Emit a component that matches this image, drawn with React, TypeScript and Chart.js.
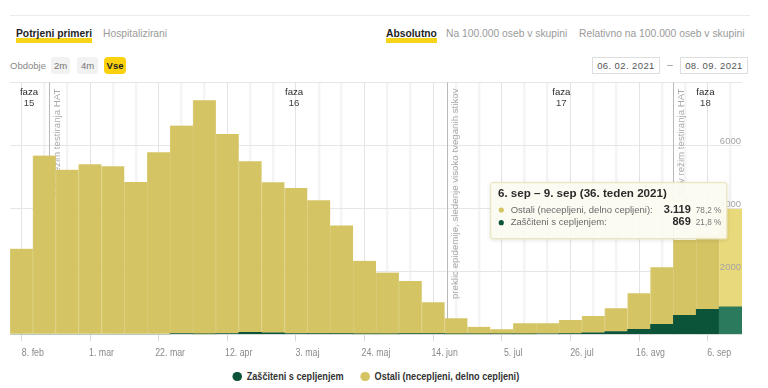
import React, { useEffect, useRef } from 'react';
import { Chart, registerables } from 'chart.js';

Chart.register(...registerables);
document.body.style.margin = '0';

const FONT = "'Liberation Sans', Arial, sans-serif";

// ---- data ----
const seriesNames = ['Zaščiteni s cepljenjem', 'Ostali (necepljeni, delno cepljeni)'];
const protectedCases = [
  0, 0, 0, 0, 0, 0, 0, 25, 5, 25, 65, 50, 25, 20, 20, 5,
  5, 20, 20, 5, 3, 3, 5, 15, 20, 50, 85, 160, 318, 600, 790, 869,
];
const otherCases = [
  2720, 5680, 5230, 5400, 5340, 4840, 5780, 6605, 7435, 6335, 5435, 4780, 4625, 4235, 3440, 2330,
  1955, 1670, 1000, 505, 237, 157, 345, 335, 435, 535, 743, 1146, 1816, 2400, 2360, 3119,
];
const tickWeeks = [1, 4, 7, 10, 13, 16, 19, 22, 25, 28, 31];
const tickLabels = ['8. feb', '1. mar', '22. mar', '12. apr', '3. maj', '24. maj', '14. jun', '5. jul', '26. jul', '16. avg', '6. sep'];
const yTickValues = [2000, 4000, 6000];
const phaseNames = ['15', '16', '17', '18'];
const phaseWeeks = [0.83, 12.42, 24.1, 30.4];
const eventWeeks = [1.7, 19.1, 29.0];
const eventLabels = [
  'Nov režim testiranja HAT',
  'preklic epidemije, sledenje visoko tveganih stikov',
  'Nov režim testiranja HAT',
];
const tooltipTitle = '6. sep – 9. sep (36. teden 2021)';
const dateFrom = '06. 02. 2021';
const dateTo = '08. 09. 2021';

const weekCount = otherCases.length;
const hoverIndex = weekCount - 1;

const GREEN = '#0c5439';
const GREEN_HOVER = '#2c7a5d';
const YELLOW = '#d4c463';
const YELLOW_HOVER = '#e8d97b';

const fmt = (v: number) => String(v).replace(/\B(?=(\d{3})+(?!\d))/g, '.');
const pct = (v: number, t: number) => ((v / t) * 100).toFixed(1).replace('.', ',') + ' %';

function scaledText(ctx: CanvasRenderingContext2D, text: string, x: number, y: number, sx: number, align: CanvasTextAlign) {
  ctx.save();
  ctx.translate(x, y);
  ctx.scale(sx, 1);
  ctx.textAlign = align;
  ctx.fillText(text, 0, 0);
  ctx.restore();
}

const overlayPlugin = {
  id: 'overlay',
  beforeDatasetsDraw(chart: any) {
    const { ctx, chartArea, scales } = chart;
    const x = scales.x;
    ctx.save();
    eventWeeks.forEach((w, i) => {
      const px = Math.round(x.getPixelForValue(w)) + 0.5;
      ctx.strokeStyle = '#b9b9b9';
      ctx.lineWidth = 1;
      ctx.beginPath();
      ctx.moveTo(px, chartArea.top);
      ctx.lineTo(px, chartArea.bottom);
      ctx.stroke();
      ctx.save();
      ctx.translate(px + 3, chartArea.top + 6);
      ctx.rotate(-Math.PI / 2);
      ctx.font = `9.7px ${FONT}`;
      ctx.fillStyle = '#a9a9a9';
      ctx.textAlign = 'right';
      ctx.textBaseline = 'top';
      ctx.fillText(eventLabels[i], 0, 0);
      ctx.restore();
    });
    phaseNames.forEach((n, i) => {
      const px = x.getPixelForValue(phaseWeeks[i]);
      ctx.font = `9.6px ${FONT}`;
      ctx.textAlign = 'center';
      ctx.textBaseline = 'middle';
      ctx.fillStyle = '#2a2a2a';
      ctx.fillText('faza', px, chartArea.top + 10);
      ctx.fillStyle = '#444';
      ctx.fillText(n, px, chartArea.top + 20.5);
    });
    ctx.restore();
  },
  afterDatasetsDraw(chart: any) {
    const { ctx, chartArea, scales } = chart;
    const y = scales.y;
    const x = scales.x;
    ctx.save();
    ctx.font = `9.5px ${FONT}`;
    ctx.fillStyle = '#a5a5a5';
    ctx.textAlign = 'right';
    ctx.textBaseline = 'middle';
    yTickValues.forEach((v) => {
      ctx.fillText(String(v), chartArea.right - 1, y.getPixelForValue(v) - 4);
    });
    ctx.font = `10px ${FONT}`;
    ctx.fillStyle = '#8a8a8a';
    ctx.textBaseline = 'middle';
    tickWeeks.forEach((w, i) => {
      scaledText(ctx, tickLabels[i], x.getPixelForValue(w), chartArea.bottom + 19, 0.88, 'center');
    });
    ctx.restore();
  },
  afterDraw(chart: any) {
    const { ctx } = chart;
    const el = chart.getDatasetMeta(1).data[hoverIndex];
    if (!el) return;
    const w = 237;
    const h = 57;
    const right = el.x - 3.3;
    const left = right - w;
    const top = el.y - 26.6;
    ctx.save();
    ctx.shadowColor = 'rgba(0,0,0,0.12)';
    ctx.shadowBlur = 4;
    ctx.shadowOffsetY = 1;
    ctx.fillStyle = 'rgba(253,252,242,0.95)';
    ctx.beginPath();
    ctx.roundRect(left, top, w, h, 2);
    ctx.fill();
    ctx.shadowColor = 'transparent';
    ctx.strokeStyle = '#e7e0b4';
    ctx.lineWidth = 1;
    ctx.beginPath();
    ctx.roundRect(left + 0.5, top + 0.5, w - 1, h - 1, 2);
    ctx.stroke();

    ctx.textBaseline = 'middle';
    ctx.textAlign = 'left';
    ctx.font = `bold 11.6px ${FONT}`;
    ctx.fillStyle = '#2b2b2b';
    ctx.fillText(tooltipTitle, left + 7.7, top + 11.5);

    const total = otherCases[hoverIndex] + protectedCases[hoverIndex];
    const rows = [
      { name: seriesNames[1], v: otherCases[hoverIndex], c: YELLOW },
      { name: seriesNames[0], v: protectedCases[hoverIndex], c: GREEN },
    ];
    rows.forEach((r, i) => {
      const cy = top + 27.8 + i * 12.7;
      ctx.fillStyle = r.c;
      ctx.beginPath();
      ctx.arc(left + 11, cy, 2.6, 0, Math.PI * 2);
      ctx.fill();
      ctx.textAlign = 'left';
      ctx.font = `9.5px ${FONT}`;
      ctx.fillStyle = '#6a6a6a';
      ctx.fillText(r.name + ':', left + 20.4, cy);
      ctx.font = `bold 10px ${FONT}`;
      ctx.fillStyle = '#2b2b2b';
      scaledText(ctx, fmt(r.v), left + 200.5, cy, 1.1, 'right');
      ctx.font = `9.5px ${FONT}`;
      ctx.fillStyle = '#777';
      scaledText(ctx, pct(r.v, total), left + 231, cy, 0.86, 'right');
    });
    ctx.restore();
  },
};

const tabStyle = (active: boolean): React.CSSProperties => ({
  position: 'absolute',
  top: 26,
  height: 17,
  lineHeight: '16px',
  fontSize: 10.3,
  fontWeight: active ? 700 : 400,
  color: active ? '#1f1f1f' : '#9a9a9a',
  whiteSpace: 'nowrap',
  background: active ? 'linear-gradient(to top, #f7d31a 0, #f7d31a 5px, transparent 5px)' : 'none',
});

const btnStyle = (left: number, width: number, active: boolean): React.CSSProperties => ({
  position: 'absolute',
  left,
  top: 57,
  width,
  height: 17,
  lineHeight: '17px',
  textAlign: 'center',
  fontSize: 9.5,
  fontWeight: active ? 700 : 400,
  color: active ? '#1f1f1f' : '#777',
  background: active ? '#fcd20f' : '#f2f2f2',
  borderRadius: active ? 4 : 3,
  whiteSpace: 'nowrap',
});

const dateStyle = (left: number): React.CSSProperties => ({
  position: 'absolute',
  left,
  top: 57,
  width: 68,
  height: 17,
  boxSizing: 'border-box',
  border: '1px solid #dedede',
  lineHeight: '15px',
  textAlign: 'center',
  fontSize: 9.5,
  color: '#555',
  letterSpacing: 0.4,
  whiteSpace: 'nowrap',
});

export default function App() {
  const canvasRef = useRef<HTMLCanvasElement>(null);

  useEffect(() => {
    if (!canvasRef.current) return;
    Chart.defaults.font.family = FONT;
    const labelSet = new Set(tickWeeks);
    const greenColors = protectedCases.map((_, i) => (i === hoverIndex ? GREEN_HOVER : GREEN));
    const yellowColors = otherCases.map((_, i) => (i === hoverIndex ? YELLOW_HOVER : YELLOW));
    const chart = new Chart(canvasRef.current, {
      type: 'bar',
      data: {
        datasets: [
          {
            label: seriesNames[0],
            data: protectedCases.map((v, i) => ({ x: i + 0.5, y: v })),
            backgroundColor: greenColors,
            borderWidth: 0,
            barPercentage: 1,
            categoryPercentage: 1,
          },
          {
            label: seriesNames[1],
            data: otherCases.map((v, i) => ({ x: i + 0.5, y: v })),
            backgroundColor: yellowColors,
            borderColor: otherCases.map((_, i) => (i === hoverIndex ? '#ecdf8c' : '#dacd7a')),
            borderWidth: { left: 1, right: 0, top: 0, bottom: 0 },
            borderSkipped: false,
            barPercentage: 1,
            categoryPercentage: 1,
          },
        ],
      },
      options: {
        animation: false,
        responsive: true,
        maintainAspectRatio: false,
        layout: { padding: { left: 10, top: 6.5, right: 0, bottom: 0 } },
        plugins: { legend: { display: false }, tooltip: { enabled: false } },
        events: [],
        scales: {
          x: {
            type: 'linear',
            stacked: true,
            min: 0,
            max: weekCount,
            offset: false,
            afterBuildTicks: (scale: any) => {
              scale.ticks = Array.from({ length: weekCount + 1 }, (_, i) => ({ value: i }));
            },
            afterFit: (scale: any) => {
              scale.height = 31.7;
            },
            ticks: { display: false },
            grid: {
              color: (c: any) => (c.tick && labelSet.has(c.tick.value) ? '#e3e3e3' : '#f4f4f4'),
              lineWidth: (c: any) => (c.tick && labelSet.has(c.tick.value) ? 1 : 2.5),
              tickColor: (c: any) => (c.tick && labelSet.has(c.tick.value) ? '#d8d8d8' : 'rgba(0,0,0,0)'),
              tickLength: 7,
              drawTicks: true,
            },
            border: { display: false },
          },
          y: {
            type: 'linear',
            position: 'right',
            stacked: true,
            min: 0,
            max: 8000,
            afterBuildTicks: (scale: any) => {
              scale.ticks = [0, 2000, 4000, 6000, 8000].map((v) => ({ value: v }));
            },
            afterFit: (scale: any) => {
              scale.width = 26;
            },
            ticks: { display: false },
            grid: { color: '#e6e6e6', drawTicks: false, lineWidth: 1 },
            border: { display: false },
          },
        },
      },
      plugins: [overlayPlugin],
    });
    return () => chart.destroy();
  }, []);

  return (
    <div style={{ position: 'relative', width: 768, height: 388, overflow: 'hidden', fontFamily: FONT, background: '#fff' }}>
      <div style={{ position: 'absolute', left: 10, top: 15, width: 740, height: 1, background: '#ebebeb' }} />
      <div style={{ ...tabStyle(true), left: 16 }}>Potrjeni primeri</div>
      <div style={{ ...tabStyle(false), left: 103 }}>Hospitalizirani</div>
      <div style={{ ...tabStyle(true), left: 386 }}>Absolutno</div>
      <div style={{ ...tabStyle(false), left: 446 }}>Na 100.000 oseb v skupini</div>
      <div style={{ ...tabStyle(false), left: 579 }}>Relativno na 100.000 oseb v skupini</div>

      <div style={{ position: 'absolute', left: 10, top: 57, height: 17, lineHeight: '17px', fontSize: 9.5, color: '#888' }}>Obdobje</div>
      <div style={btnStyle(51, 19, false)}>2m</div>
      <div style={btnStyle(77, 21, false)}>4m</div>
      <div style={btnStyle(104, 22, true)}>Vse</div>

      <div style={dateStyle(592)}>{dateFrom}</div>
      <div style={{ position: 'absolute', left: 666, top: 57, width: 8, textAlign: 'center', lineHeight: '16px', fontSize: 10, color: '#999' }}>–</div>
      <div style={dateStyle(680)}>{dateTo}</div>

      <div style={{ position: 'absolute', left: 0, top: 76, width: 768, height: 290 }}>
        <canvas ref={canvasRef} />
      </div>

      <div
        style={{
          position: 'absolute',
          left: 10,
          width: 732,
          top: 369,
          height: 14,
          display: 'flex',
          justifyContent: 'center',
          alignItems: 'center',
          gap: 19.5,
          fontSize: 10.5,
          fontWeight: 700,
          color: '#333',
          transform: 'scaleX(0.87)',
          transformOrigin: 'center',
          whiteSpace: 'nowrap',
        }}
      >
        {[GREEN, YELLOW].map((c, i) => (
          <div key={i} style={{ display: 'flex', alignItems: 'center' }}>
            <span style={{ display: 'inline-block', width: 10.3, height: 9, borderRadius: '50%', background: c, marginRight: 5.7 }} />
            <span>{seriesNames[i]}</span>
          </div>
        ))}
      </div>
    </div>
  );
}
